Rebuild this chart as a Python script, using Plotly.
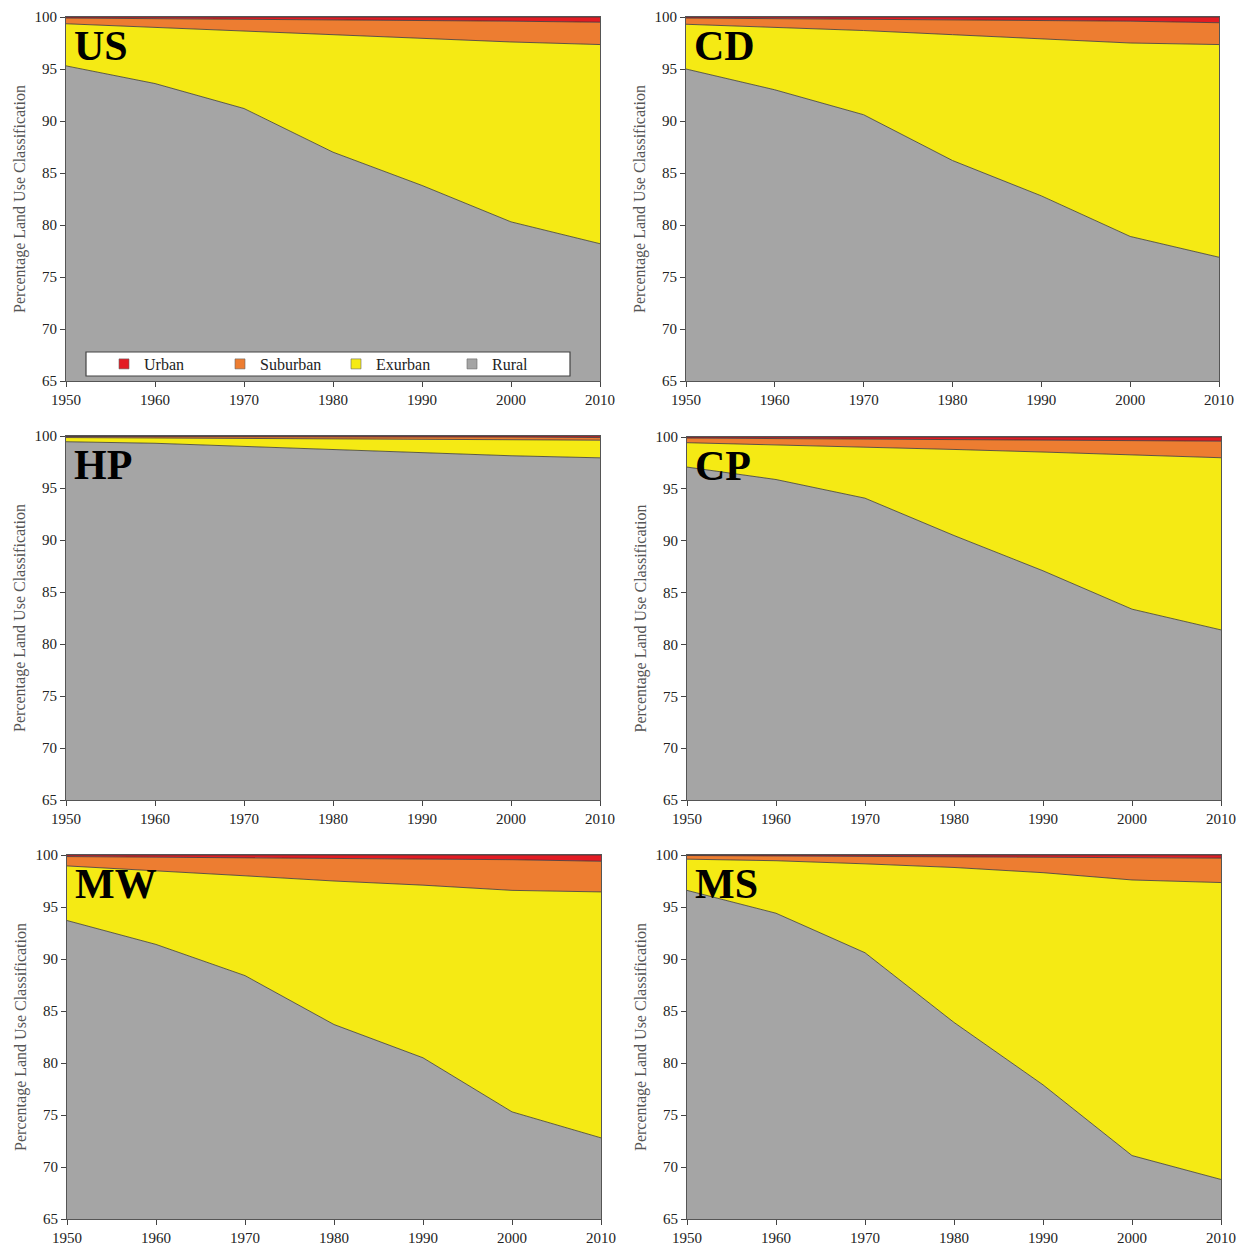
import plotly.graph_objects as go
from plotly.subplots import make_subplots

YEARS = [1950, 1960, 1970, 1980, 1990, 2000, 2010]
REGIONS = ["US", "CD", "HP", "CP", "MW", "MS"]
CLASSES = ["Rural", "Exurban", "Suburban", "Urban"]
X_TICKS = [1950, 1960, 1970, 1980, 1990, 2000, 2010]
Y_TICKS = [65, 70, 75, 80, 85, 90, 95, 100]

US_RURAL = [95.3, 93.6, 91.2, 87.0, 83.8, 80.3, 78.2]
US_EXURBAN = [4.05, 5.4, 7.5, 11.3, 14.2, 17.3, 19.15]
US_SUBURBAN = [0.55, 0.85, 1.1, 1.45, 1.7, 2.0, 2.15]
US_URBAN = [0.1, 0.15, 0.2, 0.25, 0.3, 0.4, 0.5]

CD_RURAL = [95.0, 93.0, 90.6, 86.2, 82.8, 78.9, 76.9]
CD_EXURBAN = [4.3, 6.0, 8.1, 12.1, 15.1, 18.6, 20.45]
CD_SUBURBAN = [0.6, 0.85, 1.1, 1.45, 1.8, 2.1, 2.1]
CD_URBAN = [0.1, 0.15, 0.2, 0.25, 0.3, 0.4, 0.55]

HP_RURAL = [99.45, 99.3, 99.0, 98.7, 98.4, 98.1, 97.9]
HP_EXURBAN = [0.4, 0.5, 0.8, 1.05, 1.3, 1.55, 1.7]
HP_SUBURBAN = [0.1, 0.15, 0.15, 0.15, 0.2, 0.25, 0.25]
HP_URBAN = [0.05, 0.05, 0.05, 0.1, 0.1, 0.1, 0.15]

CP_RURAL = [97.1, 95.9, 94.1, 90.5, 87.1, 83.4, 81.4]
CP_EXURBAN = [2.35, 3.35, 4.95, 8.3, 11.45, 14.85, 16.6]
CP_SUBURBAN = [0.45, 0.6, 0.75, 1.0, 1.2, 1.45, 1.6]
CP_URBAN = [0.1, 0.15, 0.2, 0.2, 0.25, 0.3, 0.4]

MW_RURAL = [93.7, 91.4, 88.4, 83.7, 80.5, 75.3, 72.8]
MW_EXURBAN = [5.25, 7.1, 9.6, 13.8, 16.6, 21.3, 23.65]
MW_SUBURBAN = [0.9, 1.3, 1.75, 2.2, 2.55, 2.95, 2.95]
MW_URBAN = [0.15, 0.2, 0.25, 0.3, 0.35, 0.45, 0.6]

MS_RURAL = [96.6, 94.4, 90.6, 83.9, 77.9, 71.1, 68.8]
MS_EXURBAN = [3.0, 5.05, 8.55, 14.9, 20.4, 26.5, 28.55]
MS_SUBURBAN = [0.35, 0.45, 0.75, 1.05, 1.5, 2.15, 2.35]
MS_URBAN = [0.05, 0.1, 0.1, 0.15, 0.2, 0.25, 0.3]

DATA = {
    "US": [US_RURAL, US_EXURBAN, US_SUBURBAN, US_URBAN],
    "CD": [CD_RURAL, CD_EXURBAN, CD_SUBURBAN, CD_URBAN],
    "HP": [HP_RURAL, HP_EXURBAN, HP_SUBURBAN, HP_URBAN],
    "CP": [CP_RURAL, CP_EXURBAN, CP_SUBURBAN, CP_URBAN],
    "MW": [MW_RURAL, MW_EXURBAN, MW_SUBURBAN, MW_URBAN],
    "MS": [MS_RURAL, MS_EXURBAN, MS_SUBURBAN, MS_URBAN],
}

COLORS = {"Rural": "#a5a5a5", "Exurban": "#f5ea14", "Suburban": "#ed7d31", "Urban": "#e31b23"}

W, H = 1249, 1247
# pixel boxes of the plot areas: (x0, x1, y0_top, y1_bottom)
BOXES = [
    (66, 600, 17, 381), (686, 1219, 17, 381),
    (66, 600, 436, 800), (687, 1221, 437, 800),
    (67, 601, 855, 1219), (687, 1221, 855, 1219),
]

FONT = "Liberation Serif"
fig = make_subplots(rows=3, cols=2)

for i, reg in enumerate(REGIONS):
    r, c = i // 2 + 1, i % 2 + 1
    for cls, vals in zip(CLASSES, DATA[reg]):
        fig.add_trace(go.Scatter(
            x=YEARS, y=vals, name=cls, stackgroup="s%d" % i, mode="lines",
            line=dict(color="#3a3a3a", width=0.8),
            fillcolor=COLORS[cls], showlegend=False,
            hoverinfo="x+y+name",
        ), row=r, col=c)

# legend-only entries (square swatches)
for cls in CLASSES:
    fig.add_trace(go.Scatter(
        x=[None], y=[None], name=cls, mode="markers",
        marker=dict(symbol="square", size=10, color=COLORS[cls],
                    line=dict(color="#666", width=0.6)),
        showlegend=True,
    ), row=1, col=1)

for i, reg in enumerate(REGIONS):
    x0, x1, y0, y1 = BOXES[i]
    suffix = "" if i == 0 else str(i + 1)
    fig.layout["xaxis" + suffix].update(
        domain=[x0 / W, x1 / W], range=[1950, 2010], tickvals=X_TICKS,
        ticks="outside", ticklen=5, tickcolor="#444", showgrid=False, zeroline=False,
        showline=True, linecolor="#555", linewidth=1, mirror=True, automargin=False,
        tickfont=dict(family=FONT, size=15, color="#222"),
    )
    fig.layout["yaxis" + suffix].update(
        domain=[1 - y1 / H, 1 - y0 / H], range=[65, 100], tickvals=Y_TICKS,
        ticks="outside", ticklen=5, tickcolor="#444", showgrid=False, zeroline=False,
        showline=True, linecolor="#555", linewidth=1, mirror=True, automargin=False,
        tickfont=dict(family=FONT, size=15, color="#222"),
        title=dict(text="Percentage Land Use Classification",
                   font=dict(family=FONT, size=16, color="#555"), standoff=4),
    )
    fig.add_annotation(
        text="<b>%s</b>" % reg, xref="x%s domain" % suffix, yref="y%s domain" % suffix,
        x=0.012, y=0.99, xanchor="left", yanchor="top", showarrow=False,
        font=dict(family=FONT, size=42, color="#000"),
    )

# legend frame
fig.add_shape(type="rect", xref="paper", yref="paper",
              x0=86 / W, x1=570 / W, y0=1 - 376 / H, y1=1 - 352 / H,
              line=dict(color="#444", width=1.2), fillcolor="white", layer="above")

fig.update_layout(
    width=W, height=H, margin=dict(l=0, r=0, t=0, b=0),
    paper_bgcolor="white", plot_bgcolor="white",
    showlegend=True,
    legend=dict(
        orientation="h", traceorder="normal", x=104 / W, y=1 - 364 / H,
        xanchor="left", yanchor="middle", bgcolor="rgba(0,0,0,0)", borderwidth=0,
        font=dict(family=FONT, size=16, color="#222"), entrywidth=71,
        itemwidth=30, tracegroupgap=0,
    ),
)

# legend order Urban, Suburban, Exurban, Rural
legend_traces = fig.data[-4:]
for t, rank in zip(legend_traces, [4, 3, 2, 1]):
    t.legendrank = rank

fig.write_html("out.html")
